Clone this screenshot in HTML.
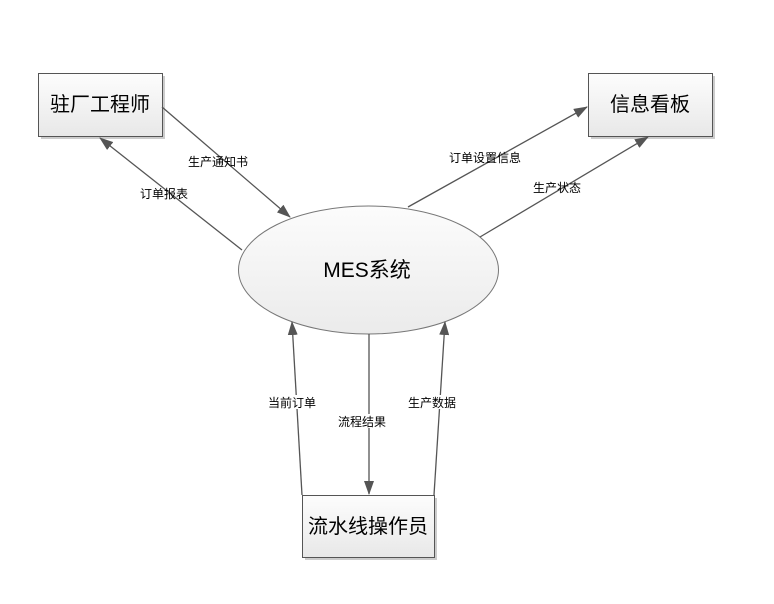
<!DOCTYPE html>
<html><head><meta charset="utf-8"><style>
body{margin:0;background:#fff}
svg{display:block}
text{font-family:"Liberation Sans","Noto Sans CJK SC",sans-serif;fill:#000}
.l{font-size:12px}
.b{font-size:20px}
</style></head><body>
<svg width="774" height="604" viewBox="0 0 774 604">
<defs>
<linearGradient id="g" x1="0" y1="0" x2="0" y2="1"><stop offset="0" stop-color="#fdfdfd"/><stop offset="1" stop-color="#e8e8e8"/></linearGradient>
<linearGradient id="e" x1="0" y1="0" x2="0" y2="1"><stop offset="0" stop-color="#fcfcfc"/><stop offset="1" stop-color="#ebebeb"/></linearGradient>
<marker id="a" markerWidth="14" markerHeight="10" refX="13" refY="5" orient="auto" markerUnits="userSpaceOnUse"><path d="M0,0 L14,5 L0,10 z" fill="#555"/></marker>
</defs>
<g fill="#ccc"><rect x="41" y="76" width="124" height="63"/><rect x="591" y="76" width="124" height="63"/><rect x="305" y="498" width="132" height="62"/></g>
<rect x="38.5" y="73.5" width="124" height="63" fill="url(#g)" stroke="#555"/>
<rect x="588.5" y="73.5" width="124" height="63" fill="url(#g)" stroke="#555"/>
<rect x="302.5" y="495.5" width="132" height="62" fill="url(#g)" stroke="#555"/>
<ellipse cx="368.5" cy="270" rx="130" ry="64" fill="url(#e)" stroke="#777"/>
<g stroke="#555" stroke-width="1.3" fill="none" marker-end="url(#a)">
<line x1="162" y1="107" x2="290" y2="217"/>
<line x1="242" y1="250" x2="100" y2="138"/>
<line x1="408" y1="207" x2="587" y2="107"/>
<line x1="480" y1="237" x2="648" y2="137"/>
<line x1="302" y1="495" x2="292" y2="322"/>
<line x1="369" y1="334" x2="369" y2="494"/>
<line x1="434" y1="495" x2="445" y2="322"/>
</g>
<text class="b" x="100" y="111" text-anchor="middle">驻厂工程师</text>
<text class="b" x="650" y="111" text-anchor="middle">信息看板</text>
<text class="b" x="368" y="533" text-anchor="middle">流水线操作员</text>
<text x="367" y="277" text-anchor="middle" style="font-size:21px">MES系统</text>
<text class="l" x="188" y="166">生产通知书</text>
<text class="l" x="140" y="198">订单报表</text>
<text class="l" x="449" y="162">订单设置信息</text>
<text class="l" x="533" y="192">生产状态</text>
<rect x="267" y="395" width="59" height="14" fill="#fff"/>
<text class="l" x="268" y="407">当前订单</text>
<rect x="337" y="414" width="61" height="14" fill="#fff"/>
<text class="l" x="338" y="426">流程结果</text>
<rect x="407" y="395" width="60" height="14" fill="#fff"/>
<text class="l" x="408" y="407">生产数据</text>
</svg>
</body></html>
